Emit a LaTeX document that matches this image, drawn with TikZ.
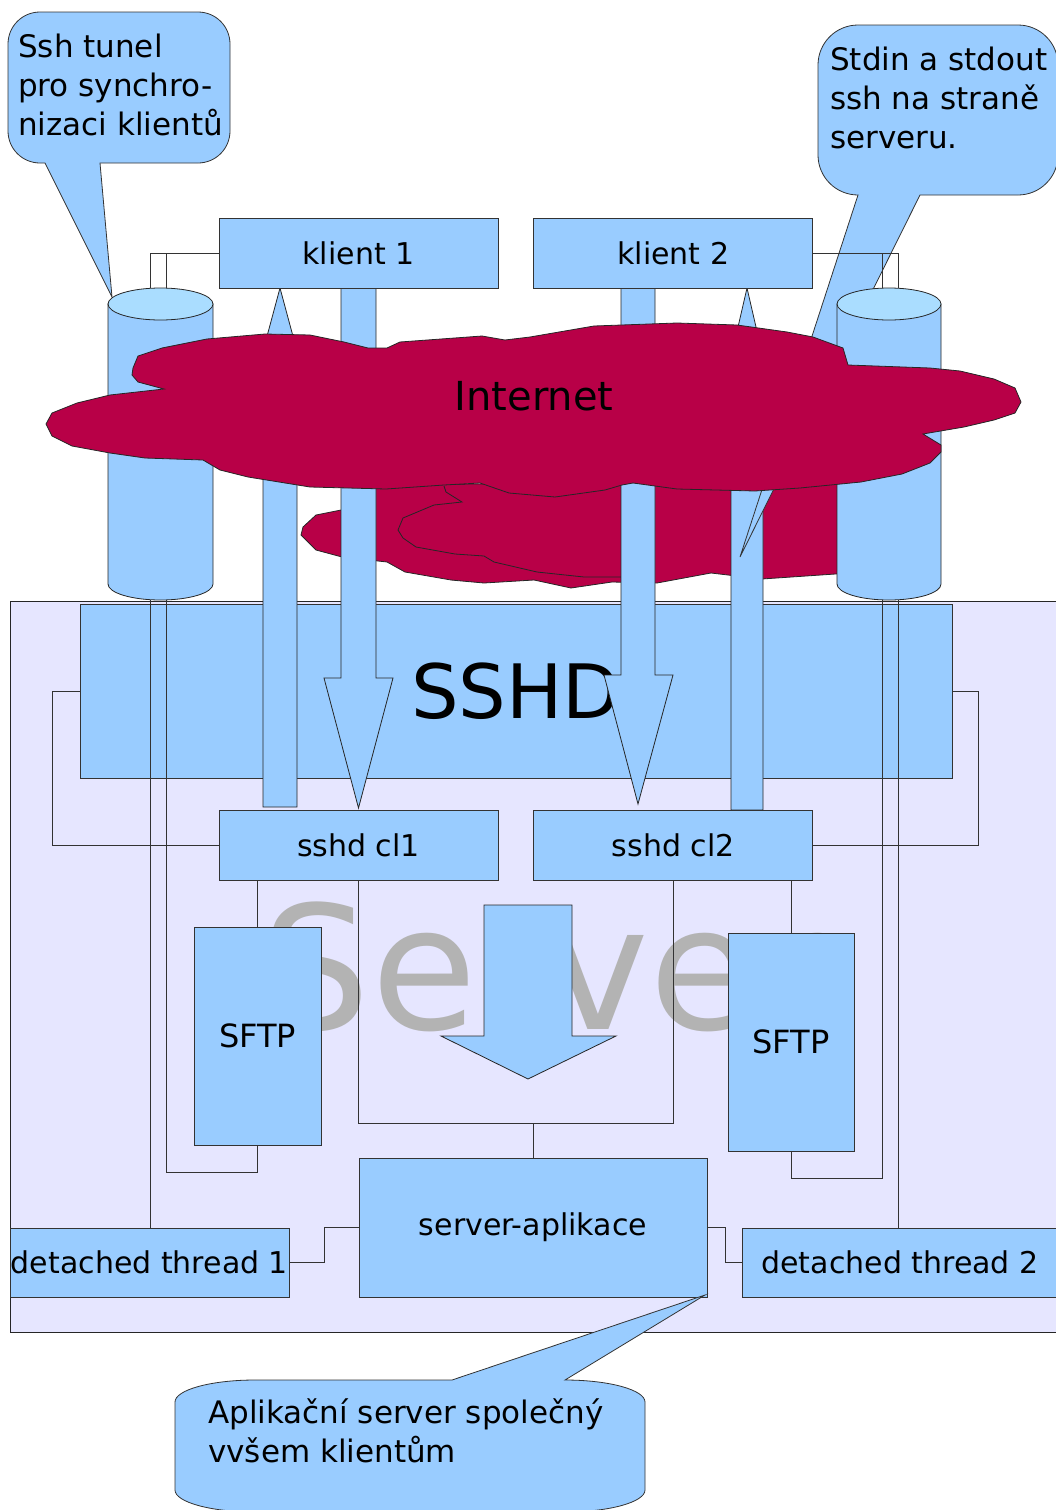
\documentclass[tikz,border=0pt]{standalone}
\usepackage{fontspec}
\setmainfont{DejaVu Sans}
\usetikzlibrary{positioning, calc}
\definecolor{boxblue}{HTML}{99CCFF}
\definecolor{tuntop}{HTML}{AADDFF}
\definecolor{serverbg}{HTML}{E6E6FF}
\definecolor{netred}{HTML}{B80047}
\definecolor{ghost}{HTML}{B3B3B3}
\tikzset{
  box/.style={rectangle, draw=black!80, fill=boxblue, line width=0.8pt, inner sep=0pt,
    font=\fontsize{30}{36}\selectfont},
  link/.style={draw=black!80, line width=0.9pt},
  fatarrow/.style={draw=black!85, fill=boxblue, line width=0.8pt},
  bubble/.style={draw=black!80, fill=boxblue, line width=0.8pt},
  bubbletext/.style={anchor=north west, inner sep=0pt, align=left, font=\fontsize{31}{39}\selectfont},
  cloudpart/.style={draw=black!85, fill=netred, line width=0.8pt},
  tunnel/.style={rectangle, minimum width=105pt, minimum height=312pt, inner sep=0pt},
}

\begin{document}
\begin{tikzpicture}[x=1pt, y=-1pt]
  \useasboundingbox (0,0) rectangle (1055,1510);

  % server area with its big grey label
  \node[rectangle, draw=black!85, fill=serverbg, line width=0.8pt, minimum width=1068pt, minimum height=731pt,
    text=ghost, font=\fontsize{172}{172}\selectfont] (server) at (544,966.5) {Server};
  \node[box, minimum width=872pt, minimum height=174pt, font=\fontsize{75}{75}\selectfont] (sshd) at (516,691) {SSHD};

  % back part of the cloud
  \path[cloudpart] (301,535) -- (303,527) -- (316,515) -- (341,510) -- (360,497) -- (380,485) -- (850,480)
    -- (850,573) -- (762,579) -- (711,573) -- (657,583) -- (612,582) -- (571,588) -- (534,580) -- (484,583)
    -- (451,580) -- (405,572) -- (387,562) -- (342,557) -- (316,550) -- cycle;
  \draw[black!85, line width=0.8pt] (444,486) -- (446,492) -- (462,502) -- (434,505) -- (403,518) -- (398,530)
    -- (403,538) -- (416,547) -- (455,554) -- (484,556) -- (494,562) -- (537,572) -- (584,577) -- (630,577);

  % fat arrows between clients and sshd children
  \path[fatarrow] (341,288) -- (341,678) -- (324,678) -- (358.5,808) -- (393,678) -- (376,678) -- (376,288) -- cycle;
  \path[fatarrow] (263,807) -- (263,418) -- (245,418) -- (280,288) -- (315,418) -- (297,418) -- (297,807) -- cycle;
  \path[fatarrow] (621,288) -- (621,675) -- (604,675) -- (638,804) -- (673,675) -- (655,675) -- (655,288) -- cycle;
  \path[fatarrow] (731,810) -- (731,418) -- (717,418) -- (747,288) -- (777,418) -- (763,418) -- (763,810) -- cycle;
  \path[fatarrow] (484,905) -- (484,1036) -- (441,1036) -- (528,1079) -- (616,1036) -- (572,1036) -- (572,905) -- cycle;

  \node[box, minimum width=279pt, minimum height=70pt] (klient1) at (358.5,253) {klient 1};
  \node[box, minimum width=279pt, minimum height=70pt, right=35pt of klient1] (klient2) {klient 2};
  \node[box, minimum width=279pt, minimum height=70pt] (sshdcl1) at (358.5,845) {sshd cl1};
  \node[box, minimum width=279pt, minimum height=70pt, right=35pt of sshdcl1] (sshdcl2) {sshd cl2};
  \node[box, minimum width=127pt, minimum height=218pt, font=\fontsize{32}{36}\selectfont] (sftp1) at (257.5,1036) {SFTP};
  \node[box, minimum width=126pt, minimum height=218pt, font=\fontsize{32}{36}\selectfont] (sftp2) at (791,1042) {SFTP};
  \node[box, minimum width=348pt, minimum height=139pt] (app) at (533,1227.5) {server-aplikace};
  \node[box, minimum width=279pt, minimum height=69pt] (dt1) at (149.5,1262.5) {detached thread 1};
  \node[box, minimum width=316pt, minimum height=69pt] (dt2) at (900,1262.5) {detached thread 2};

  % callouts at the top
  \path[bubble] (100,163) -- (112,297) -- (45,163) -- (40,163) .. controls (22.3,163) and (8,148.7) .. (8,131)
    -- (8,44) .. controls (8,26.3) and (22.3,12) .. (40,12) -- (198,12) .. controls (215.7,12) and (230,26.3) .. (230,44)
    -- (230,131) .. controls (230,148.7) and (215.7,163) .. (198,163) -- cycle;
  \node[bubbletext] (note1) at (18,34) {Ssh tunel\\pro synchro-\\nizaci klientů};
  \path[bubble] (920,195) -- (740,557) -- (858,195) .. controls (835.9,195) and (818,177.1) .. (818,155)
    -- (818,65) .. controls (818,42.9) and (835.9,25) .. (858,25) -- (1018,25) .. controls (1040.1,25) and (1058,42.9) .. (1058,65)
    -- (1058,155) .. controls (1058,177.1) and (1040.1,195) .. (1018,195) -- cycle;
  \node[bubbletext] (note2) at (830,47) {Stdin a stdout\\ssh na straně\\serveru.};

  % ssh tunnels
  \node[tunnel] (tun1) at (160.5,444) {};
  \node[tunnel] (tun2) at (889,444) {};
  \path[fatarrow] (108,304) -- (108,584) .. controls (108,592.8) and (131.5,600) .. (160.5,600)
    .. controls (189.5,600) and (213,592.8) .. (213,584) -- (213,304) -- cycle;
  \draw[fill=tuntop, draw=black!85, line width=0.8pt] (160.5,304) ellipse [x radius=52.5pt, y radius=16pt];
  \path[fatarrow] (837,304) -- (837,584) .. controls (837,592.8) and (860,600) .. (889,600)
    .. controls (918,600) and (941,592.8) .. (941,584) -- (941,304) -- cycle;
  \draw[fill=tuntop, draw=black!85, line width=0.8pt] (889,304) ellipse [x radius=52pt, y radius=16pt];

  % front part of the cloud
  \path[cloudpart] (46,424) -- (52,413) -- (77,403) -- (110,395) -- (164,389) -- (138,382) -- (132,375) -- (133,368)
    -- (138,356) -- (162,348) -- (207,339) -- (265,334) -- (310,335) -- (344,342) -- (368,348) -- (387,348)
    -- (400,342) -- (482,336) -- (505,340) -- (530,337) -- (594,326) -- (677,323) -- (737,325) -- (787,332)
    -- (813,337) -- (843,348) -- (848,365) -- (930,368) -- (960,371) -- (994,379) -- (1015,388) -- (1021,402)
    -- (1015,413) -- (994,420) -- (964,427) -- (923,434) -- (941,445) -- (941,452) -- (930,463) -- (902,474)
    -- (861,482) -- (800,488) -- (755,491) -- (677,489) -- (633,483) -- (622,485) -- (605,490) -- (555,497)
    -- (509,493) -- (480,483) -- (444,485) -- (386,489) -- (310,487) -- (248,477) -- (220,470) -- (203,460)
    -- (145,458) -- (110,453) -- (72,446) -- (52,436) -- cycle;
  \node[anchor=base, inner sep=0pt, font=\fontsize{40}{40}\selectfont] (net) at (534,410) {Internet};

  % connections
  \draw[link] (klient1.west) -| ([xshift=-10.5pt]tun1.north);
  \draw[link] (klient1.west) -| ([xshift=5.5pt]tun1.north);
  \draw[link] (klient2.east) -| ([xshift=-7pt]tun2.north);
  \draw[link] (klient2.east) -| ([xshift=9pt]tun2.north);
  \draw[link] ([xshift=-10.5pt]tun1.south) -- ([xshift=-10.5pt]tun1.south |- dt1.north);
  \draw[link] ([xshift=5.5pt]tun1.south) |- ([yshift=-27pt]sftp1.south) -- (sftp1.south);
  \draw[link] ([xshift=-7pt]tun2.south) |- ([yshift=-27pt]sftp2.south) -- (sftp2.south);
  \draw[link] ([xshift=9pt]tun2.south) -- ([xshift=9pt]tun2.south |- dt2.north);
  \draw[link] (sshd.west) -- ++(-27,0) |- (sshdcl1.west);
  \draw[link] (sshd.east) -- ++(26,0) |- (sshdcl2.east);
  \draw[link] (sshdcl1.south -| sftp1.north) -- (sftp1.north);
  \draw[link] (sshdcl2.south -| sftp2.north) -- (sftp2.north);
  \coordinate (merge) at (533,1123);
  \draw[link] (sshdcl1.south) |- (merge) -| (sshdcl2.south);
  \draw[link] (merge) -- (app.north);
  \draw[link] (app.west) -- ++(-34,0) |- (dt1.east);
  \draw[link] (app.east) -- ++(18,0) |- (dt2.west);

  % callout at the bottom
  \path[bubble] (452,1380) -- (705,1295) -- (565,1380) .. controls (609.2,1380) and (645,1389.9) .. (645,1402)
    -- (645,1490) .. controls (645,1502.1) and (609.2,1512) .. (565,1512) -- (255,1512)
    .. controls (210.8,1512) and (175,1502.1) .. (175,1490) -- (175,1402)
    .. controls (175,1389.9) and (210.8,1380) .. (255,1380) -- cycle;
  \node[bubbletext] (note3) at (208,1398) {Aplikační server společný\\vvšem klientům};
\end{tikzpicture}
\end{document}
